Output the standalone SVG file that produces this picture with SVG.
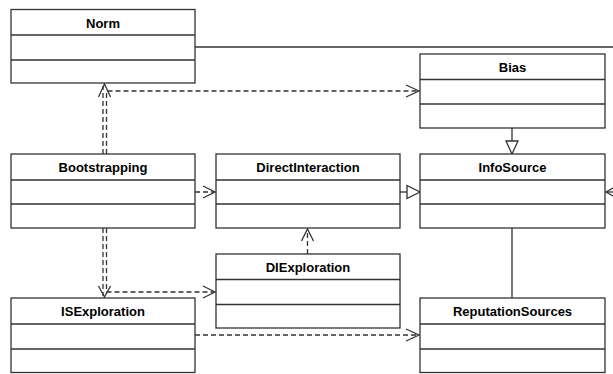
<svg xmlns="http://www.w3.org/2000/svg" width="613" height="374" viewBox="0 0 613 374">
  <style>
    .box { fill: #ffffff; stroke: #333333; stroke-width: 1.3; }
    .sep { stroke: #333333; stroke-width: 1.3; }
    .title { font-family: "Liberation Sans", Arial, sans-serif; font-weight: bold; font-size: 13px; fill: #000000; text-anchor: middle; }
    .solid { fill: none; stroke: #333333; stroke-width: 1.3; }
    .dash { fill: none; stroke: #333333; stroke-width: 1.3; stroke-dasharray: 5 3; }
    .open { fill: none; stroke: #333333; stroke-width: 1.3; }
    .tri { fill: #ffffff; stroke: #333333; stroke-width: 1.3; }
  </style>
  <rect width="613" height="374" fill="#ffffff"/>

  <g id="connectors">
    <!-- Norm association running off to the right -->
    <path class="solid" d="M195,47 H613"/>
    <!-- Bootstrapping to Norm dependency -->
    <path class="dash" d="M103,154 V86"/>
    <path class="open" d="M98.5,97 L104.5,84 L110.5,97"/>
    <!-- Bootstrapping to Bias dependency -->
    <path class="dash" d="M106.5,154 V91 H418"/>
    <path class="open" d="M406,85 L419,91 L406,97"/>
    <!-- Bias generalizes to InfoSource -->
    <path class="solid" d="M512,128 V141"/>
    <path class="tri" d="M506,141 L518,141 L512,154 Z"/>
    <!-- Bootstrapping to DirectInteraction -->
    <path class="dash" d="M195,192 H214"/>
    <path class="open" d="M203,186 L215,192 L203,198"/>
    <!-- DirectInteraction generalizes to InfoSource -->
    <path class="solid" d="M400,192 H407"/>
    <path class="tri" d="M407,185.5 L420,192 L407,198.5 Z"/>
    <!-- Incoming arrow at InfoSource right side -->
    <path class="solid" d="M606,192 H613"/>
    <path class="open" d="M613,188 L606,192 L613,196"/>
    <!-- InfoSource to ReputationSources association -->
    <path class="solid" d="M512,228 V298"/>
    <!-- DIExploration to DirectInteraction -->
    <path class="dash" d="M307.5,254 V230"/>
    <path class="open" d="M301.5,241 L307.5,229 L313.5,241"/>
    <!-- Bootstrapping to ISExploration -->
    <path class="dash" d="M103,228 V296"/>
    <path class="dash" d="M106.5,228 V292 H214"/>
    <path class="open" d="M98.5,286 L104.5,297 L110.5,286"/>
    <path class="open" d="M203,286 L215,292 L203,298"/>
    <!-- ISExploration to ReputationSources -->
    <path class="dash" d="M195,335 H418"/>
    <path class="open" d="M406,329 L419,335 L406,341"/>
  </g>

  <g id="Norm">
    <rect class="box" x="11" y="9.5" width="184" height="73.5"/>
    <path class="sep" d="M11,35 H195 M11,60 H195"/>
    <text class="title" x="103" y="28">Norm</text>
  </g>

  <g id="Bias">
    <rect class="box" x="420" y="54" width="185" height="74"/>
    <path class="sep" d="M420,79.5 H605 M420,104 H605"/>
    <text class="title" x="512.5" y="72">Bias</text>
  </g>

  <g id="Bootstrapping">
    <rect class="box" x="11" y="154" width="184" height="74"/>
    <path class="sep" d="M11,180 H195 M11,204 H195"/>
    <text class="title" x="103" y="172">Bootstrapping</text>
  </g>

  <g id="DirectInteraction">
    <rect class="box" x="216" y="154" width="184" height="74"/>
    <path class="sep" d="M216,180 H400 M216,204 H400"/>
    <text class="title" x="308" y="172">DirectInteraction</text>
  </g>

  <g id="InfoSource">
    <rect class="box" x="420" y="154" width="185" height="74"/>
    <path class="sep" d="M420,180 H605 M420,204 H605"/>
    <text class="title" x="512.5" y="172">InfoSource</text>
  </g>

  <g id="DIExploration">
    <rect class="box" x="216" y="254" width="184" height="74"/>
    <path class="sep" d="M216,279.5 H400 M216,304.5 H400"/>
    <text class="title" x="308" y="272">DIExploration</text>
  </g>

  <g id="ISExploration">
    <rect class="box" x="11" y="298" width="184" height="74.5"/>
    <path class="sep" d="M11,324 H195 M11,349 H195"/>
    <text class="title" x="103" y="316">ISExploration</text>
  </g>

  <g id="ReputationSources">
    <rect class="box" x="420" y="298" width="185" height="74.5"/>
    <path class="sep" d="M420,324 H605 M420,349 H605"/>
    <text class="title" x="512.5" y="316">ReputationSources</text>
  </g>
</svg>
